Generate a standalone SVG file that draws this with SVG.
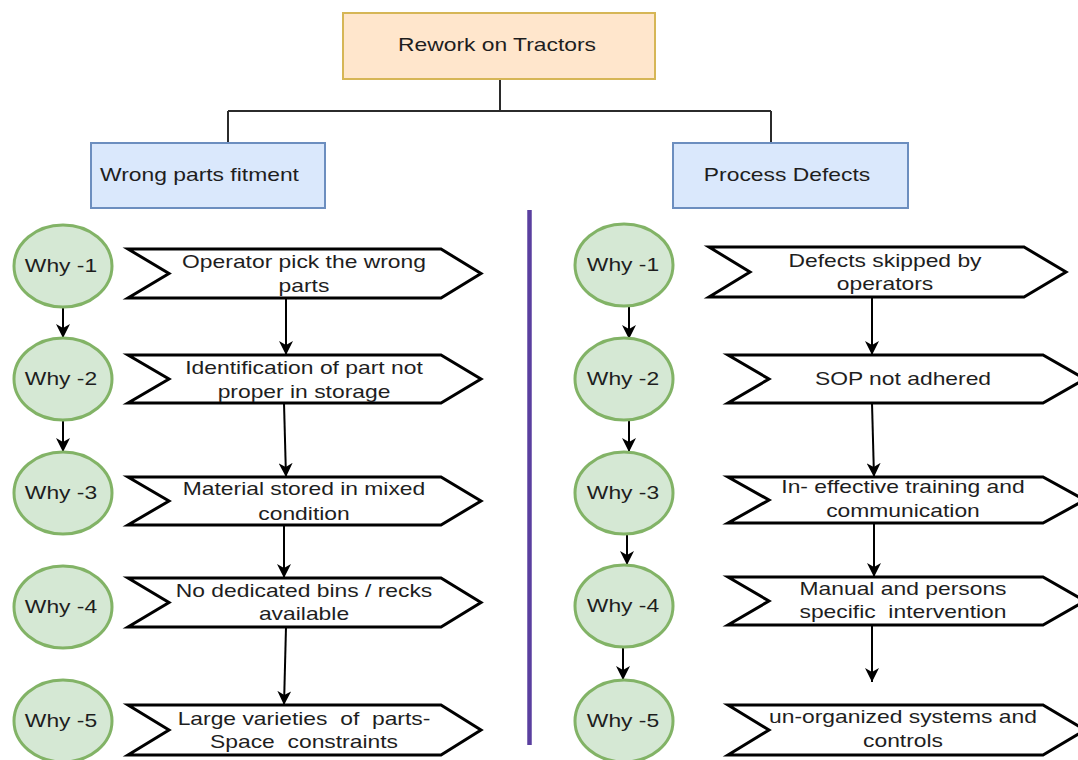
<svg xmlns="http://www.w3.org/2000/svg" width="1078" height="760" viewBox="0 0 1078 760">
  <style>
    .lbl { font-family: "Liberation Sans", Arial, sans-serif; font-size: 18px; fill: #1e1e1e; text-anchor: middle; }
    .lbl-start { text-anchor: start; }
    .root { fill: #ffe6cc; stroke: #d6b656; stroke-width: 2; }
    .cat { fill: #dae8fc; stroke: #6c8ebf; stroke-width: 2; }
    .why { fill: #d5e8d4; stroke: #82b366; stroke-width: 3; }
    .flag { fill: #ffffff; stroke: #000000; stroke-width: 3; stroke-linejoin: miter; }
    .tree { fill: none; stroke: #2b2b2b; stroke-width: 2; }
    .arrow { fill: none; stroke: #000000; stroke-width: 2; marker-end: url(#head); }
  </style>
  <defs>
    <marker id="head" viewBox="0 0 14 14" refX="14" refY="7" markerWidth="14" markerHeight="14" markerUnits="userSpaceOnUse" orient="auto">
      <path d="M0,0 L14,7 L0,14 L4,7 Z" fill="#000000"/>
    </marker>
  </defs>

  <rect width="1078" height="760" fill="#ffffff"/>

  <!-- connectors -->
  <g id="connectors">
    <path class="tree" d="M500,79 V111 M228,111 H771 M228,111 V143 M771,111 V143"/>
    <!-- left circles -->
    <path class="arrow" d="M63,307 V338"/>
    <path class="arrow" d="M63,420 V452"/>
    <!-- left flags -->
    <path class="arrow" d="M286,298 L286,355"/>
    <path class="arrow" d="M284,403 L286,477"/>
    <path class="arrow" d="M284,525 L284,578"/>
    <path class="arrow" d="M286,627 L284,705"/>
    <!-- right circles -->
    <path class="arrow" d="M629,307 V339"/>
    <path class="arrow" d="M629,421 V452"/>
    <path class="arrow" d="M627,535 V565"/>
    <path class="arrow" d="M623,648 V680"/>
    <!-- right flags -->
    <path class="arrow" d="M872,297 L872,355"/>
    <path class="arrow" d="M872,403 L874,477"/>
    <path class="arrow" d="M874,523 L874,577"/>
    <path class="arrow" d="M872,625 L872,682"/>
  </g>

  <!-- divider between the two branches -->
  <g id="divider">
    <line x1="529.5" y1="210" x2="529.5" y2="745" stroke="#5a3f9f" stroke-width="4.5"/>
  </g>

  <!-- top problem -->
  <g id="rework">
    <rect class="root" x="343" y="13" width="312" height="66"/>
    <text class="lbl" transform="matrix(1.27 0 0 1 497 0)" x="0" y="51">Rework on Tractors</text>
  </g>

  <!-- categories -->
  <g id="wrong-parts">
    <rect class="cat" x="91" y="143" width="234" height="65"/>
    <text class="lbl lbl-start" transform="matrix(1.27 0 0 1 100 0)" x="0" y="181">Wrong parts fitment</text>
  </g>
  <g id="process-defects">
    <rect class="cat" x="673" y="143" width="235" height="65"/>
    <text class="lbl" transform="matrix(1.27 0 0 1 787 0)" x="0" y="181">Process Defects</text>
  </g>

  <!-- left branch: why circles -->
  <g id="l-why1"><ellipse class="why" cx="63" cy="266" rx="49" ry="41"/><text class="lbl" transform="matrix(1.27 0 0 1 61 0)" x="0" y="272">Why -1</text></g>
  <g id="l-why2"><ellipse class="why" cx="63" cy="379" rx="49" ry="41"/><text class="lbl" transform="matrix(1.27 0 0 1 61 0)" x="0" y="385">Why -2</text></g>
  <g id="l-why3"><ellipse class="why" cx="63" cy="493" rx="49" ry="41"/><text class="lbl" transform="matrix(1.27 0 0 1 61 0)" x="0" y="499">Why -3</text></g>
  <g id="l-why4"><ellipse class="why" cx="63" cy="607" rx="49" ry="41"/><text class="lbl" transform="matrix(1.27 0 0 1 61 0)" x="0" y="613">Why -4</text></g>
  <g id="l-why5"><ellipse class="why" cx="63" cy="721" rx="49" ry="41"/><text class="lbl" transform="matrix(1.27 0 0 1 61 0)" x="0" y="727">Why -5</text></g>

  <!-- left branch: causes -->
  <g id="l-cause1">
    <polygon class="flag" points="128,249 441,249 481,273.5 441,298 128,298 169,273.5"/>
    <text class="lbl" transform="matrix(1.27 0 0 1 304 0)"><tspan x="0" y="268">Operator pick the wrong</tspan><tspan x="0" y="292">parts</tspan></text>
  </g>
  <g id="l-cause2">
    <polygon class="flag" points="128,355 441,355 481,379 441,403 128,403 169,379"/>
    <text class="lbl" transform="matrix(1.27 0 0 1 304 0)"><tspan x="0" y="374">Identification of part not</tspan><tspan x="0" y="398">proper in storage</tspan></text>
  </g>
  <g id="l-cause3">
    <polygon class="flag" points="128,477 441,477 481,501 441,525 128,525 169,501"/>
    <text class="lbl" transform="matrix(1.27 0 0 1 304 0)"><tspan x="0" y="495">Material stored in mixed</tspan><tspan x="0" y="520">condition</tspan></text>
  </g>
  <g id="l-cause4">
    <polygon class="flag" points="128,578 441,578 481,602.5 441,627 128,627 169,602.5"/>
    <text class="lbl" transform="matrix(1.27 0 0 1 304 0)"><tspan x="0" y="597">No dedicated bins / recks</tspan><tspan x="0" y="620">available</tspan></text>
  </g>
  <g id="l-cause5">
    <polygon class="flag" points="128,705 441,705 481,730 441,755 128,755 169,730"/>
    <text class="lbl" xml:space="preserve" transform="matrix(1.27 0 0 1 304 0)"><tspan x="0" y="725">Large varieties  of  parts-</tspan><tspan x="0" y="748">Space  constraints</tspan></text>
  </g>

  <!-- right branch: why circles -->
  <g id="r-why1"><ellipse class="why" cx="624" cy="265" rx="49" ry="41"/><text class="lbl" transform="matrix(1.27 0 0 1 623 0)" x="0" y="271">Why -1</text></g>
  <g id="r-why2"><ellipse class="why" cx="624" cy="379" rx="49" ry="41"/><text class="lbl" transform="matrix(1.27 0 0 1 623 0)" x="0" y="385">Why -2</text></g>
  <g id="r-why3"><ellipse class="why" cx="624" cy="493" rx="49" ry="41"/><text class="lbl" transform="matrix(1.27 0 0 1 623 0)" x="0" y="499">Why -3</text></g>
  <g id="r-why4"><ellipse class="why" cx="624" cy="606" rx="49" ry="41"/><text class="lbl" transform="matrix(1.27 0 0 1 623 0)" x="0" y="612">Why -4</text></g>
  <g id="r-why5"><ellipse class="why" cx="624" cy="721" rx="49" ry="41"/><text class="lbl" transform="matrix(1.27 0 0 1 623 0)" x="0" y="727">Why -5</text></g>

  <!-- right branch: causes -->
  <g id="r-cause1">
    <polygon class="flag" points="709,247 1024,247 1066,272 1024,297 709,297 750,272"/>
    <text class="lbl" transform="matrix(1.27 0 0 1 885 0)"><tspan x="0" y="267">Defects skipped by</tspan><tspan x="0" y="290">operators</tspan></text>
  </g>
  <g id="r-cause2">
    <polygon class="flag" points="728,355 1043,355 1085,379 1043,403 728,403 769,379"/>
    <text class="lbl" transform="matrix(1.27 0 0 1 903 0)" x="0" y="385">SOP not adhered</text>
  </g>
  <g id="r-cause3">
    <polygon class="flag" points="728,477 1043,477 1085,500 1043,523 728,523 769,500"/>
    <text class="lbl" transform="matrix(1.27 0 0 1 903 0)"><tspan x="0" y="493">In- effective training and</tspan><tspan x="0" y="517">communication</tspan></text>
  </g>
  <g id="r-cause4">
    <polygon class="flag" points="728,577 1043,577 1085,601 1043,625 728,625 769,601"/>
    <text class="lbl" xml:space="preserve" transform="matrix(1.27 0 0 1 903 0)"><tspan x="0" y="595">Manual and persons</tspan><tspan x="0" y="618">specific  intervention</tspan></text>
  </g>
  <g id="r-cause5">
    <polygon class="flag" points="728,705 1043,705 1085,730 1043,755 728,755 769,730"/>
    <text class="lbl" transform="matrix(1.27 0 0 1 903 0)"><tspan x="0" y="723">un-organized systems and</tspan><tspan x="0" y="747">controls</tspan></text>
  </g>
</svg>
